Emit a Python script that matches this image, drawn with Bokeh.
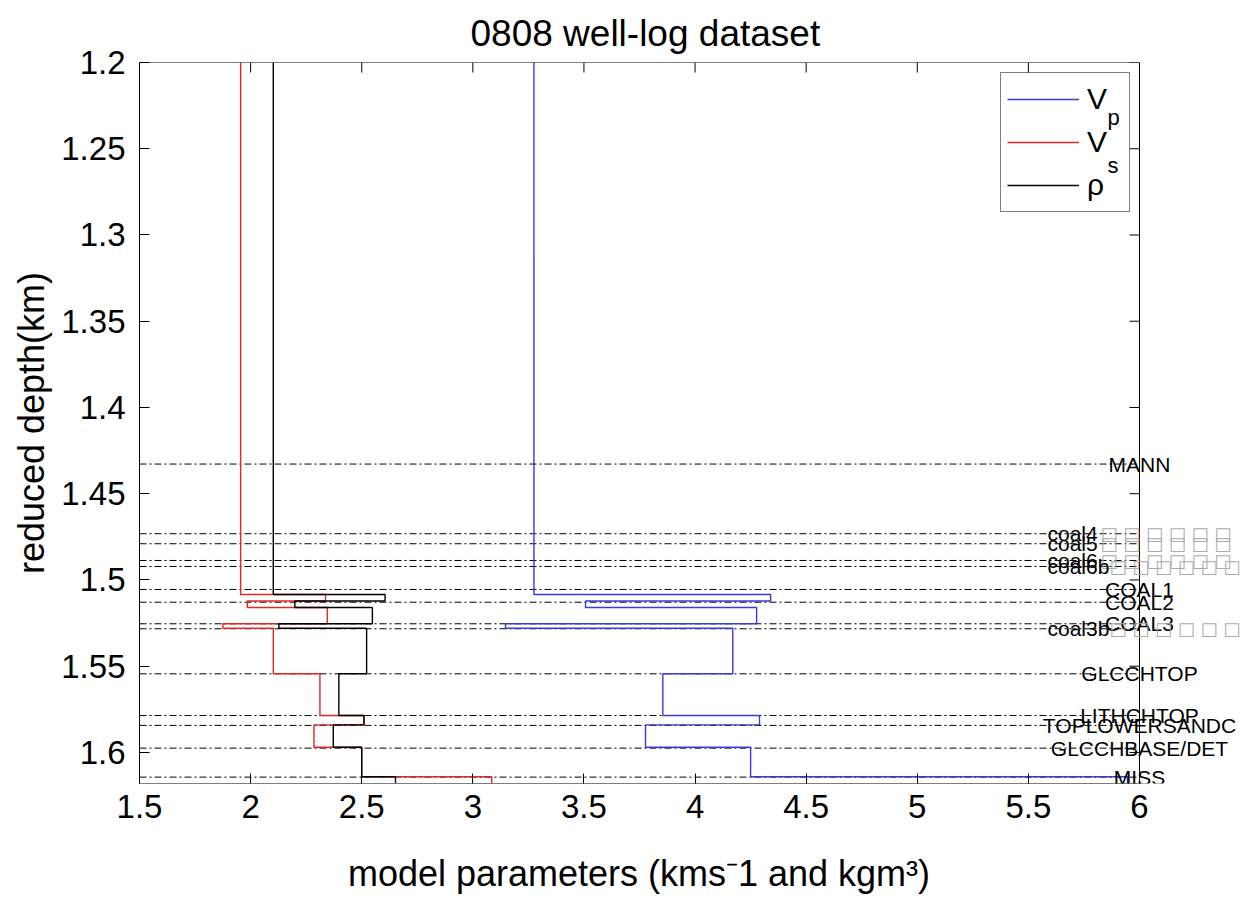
from bokeh.plotting import figure
from bokeh.models import Range1d, Label, Legend, LegendItem, FixedTicker
from bokeh.embed import file_html
from bokeh.resources import INLINE

# ---------------- data ----------------
layer_tops = [1.2, 1.5084, 1.5122, 1.5160, 1.5254, 1.5280, 1.5544, 1.5786,
              1.5840, 1.5970, 1.6141]
max_depth = 1.618
vp_values = [3.275, 4.34, 3.507, 4.277, 3.147, 4.17, 3.855, 4.29, 3.777, 4.25, 5.946]
vs_values = [1.955, 2.337, 1.985, 2.345, 1.875, 2.102, 2.312, 2.51, 2.285, 2.50, 3.085]
rho_values = [2.102, 2.605, 2.199, 2.548, 2.127, 2.522, 2.397, 2.51, 2.372, 2.50, 2.652]

horizon_names = ["MANN", "coal4", "coal5", "coal6", "coal6b", "COAL1", "COAL2",
                 "COAL3", "coal3b", "GLCCHTOP", "LITHCHTOP", "TOPLOWERSANDC",
                 "GLCCHBASE/DET", "MISS"]
horizon_depths = [1.4328, 1.4732, 1.4790, 1.4887, 1.4922, 1.5055, 1.5129,
                  1.5254, 1.5283, 1.5544, 1.5786, 1.5843, 1.5975, 1.6143]

x_ticks = [1.5, 2, 2.5, 3, 3.5, 4, 4.5, 5, 5.5, 6]
x_tick_labels = ["1.5", "2", "2.5", "3", "3.5", "4", "4.5", "5", "5.5", "6"]
y_ticks = [1.2, 1.25, 1.3, 1.35, 1.4, 1.45, 1.5, 1.55, 1.6]
y_tick_labels = ["1.2", "1.25", "1.3", "1.35", "1.4", "1.45", "1.5", "1.55", "1.6"]

X_MIN, X_MAX, Y_TOP = 1.5, 6.0, 1.2
FONT = "Liberation Sans"

# ---------------- geometry of the page ----------------
W, H = 1248, 904
LEFT, TOP, RIGHT_AX, BOTTOM_AX = 139, 62, 1139, 783
px_per_x = (RIGHT_AX - LEFT) / (X_MAX - X_MIN)
px_per_y = (BOTTOM_AX - TOP) / (max_depth - Y_TOP)
x_end = X_MAX + (W - RIGHT_AX) / px_per_x        # frame runs to the canvas edge
tick_dx = 10 / px_per_x
tick_dy = 10 / px_per_y


def step_profile(values):
    bottoms = layer_tops[1:] + [max_depth]
    xs, ys = [], []
    for v, t, b in zip(values, layer_tops, bottoms):
        xs += [v, v]
        ys += [t, b]
    return xs, ys


p = figure(width=W, height=H,
           x_range=Range1d(X_MIN, x_end), y_range=Range1d(max_depth, Y_TOP),
           output_backend="svg", toolbar_location=None,
           min_border_left=LEFT, min_border_right=0,
           min_border_top=TOP, min_border_bottom=H - BOTTOM_AX)
p.xgrid.visible = False
p.ygrid.visible = False
p.outline_line_color = None

p.title.text = "0808 well-log dataset"
p.title.align = "left"
p.title.offset = 331
p.title.vertical_align = "top"
p.title.text_font = FONT
p.title.text_font_size = "37px"
p.title.text_font_style = "normal"
p.title.text_color = "black"
p.title.standoff = 14

# horizons (dash-dot lines across the axes box)
n_h = len(horizon_depths)
p.segment(x0=[X_MIN] * n_h, x1=[X_MAX] * n_h, y0=horizon_depths, y1=horizon_depths,
          line_color="black", line_width=1, line_dash="7 3 2 3")

# profiles
xs, ys = step_profile(vp_values)
r_vp = p.line(xs, ys, line_color="#3a3ad8", line_width=1.4)
xs, ys = step_profile(vs_values)
r_vs = p.line(xs, ys, line_color="#e02828", line_width=1.4)
xs, ys = step_profile(rho_values)
r_rho = p.line(xs, ys, line_color="black", line_width=1.4)

# box: top, bottom and right edges at the axis limits, inward ticks on top/right
p.segment(x0=[X_MIN, X_MIN, X_MAX], x1=[X_MAX, X_MAX, X_MAX],
          y0=[Y_TOP, max_depth, Y_TOP], y1=[Y_TOP, max_depth, max_depth],
          line_color="black", line_width=1)
n_y = len(y_ticks)
p.segment(x0=[X_MAX] * n_y, x1=[X_MAX - tick_dx] * n_y, y0=y_ticks, y1=y_ticks,
          line_color="black", line_width=1)
n_x = len(x_ticks)
p.segment(x0=x_ticks, x1=x_ticks, y0=[Y_TOP] * n_x, y1=[Y_TOP + tick_dy] * n_x,
          line_color="black", line_width=1)


def style_axis(ax):
    ax.major_tick_in = 10
    ax.major_tick_out = 0
    ax.minor_tick_in = 0
    ax.minor_tick_out = 0
    ax.major_tick_line_color = "black"
    ax.major_label_text_font = FONT
    ax.major_label_text_font_size = "33px"
    ax.major_label_text_color = "black"


xax = p.xaxis[0]
xax.ticker = FixedTicker(ticks=x_ticks)
xax.major_label_overrides = dict(zip(x_ticks, x_tick_labels))
style_axis(xax)
xax.axis_line_color = None
xax.major_label_standoff = 11
# trailing no-break spaces centre the label under the axes box (frame runs further right)
xax.axis_label = "model parameters (kms\u207b1 and kgm\u00b3)" + "\u00a0" * 11
xax.axis_label_text_font = FONT
xax.axis_label_text_font_size = "36px"
xax.axis_label_text_font_style = "normal"
xax.axis_label_text_color = "black"
xax.axis_label_standoff = 32

yax = p.yaxis[0]
yax.ticker = FixedTicker(ticks=y_ticks)
yax.major_label_overrides = dict(zip(y_ticks, y_tick_labels))
style_axis(yax)
yax.axis_line_color = "black"
yax.major_label_standoff = 14
yax.axis_label = "reduced depth(km)"
yax.axis_label_text_font = FONT
yax.axis_label_text_font_size = "36px"
yax.axis_label_text_font_style = "normal"
yax.axis_label_text_color = "black"
yax.axis_label_standoff = 6

# horizon labels
for name, d in zip(horizon_names, horizon_depths):
    if name.islower():
        p.add_layout(Label(x=X_MAX, y=d, x_offset=-92, text=name, text_align="left",
                           text_baseline="alphabetic", text_font=FONT,
                           text_font_size="21px", text_color="black"))
        p.add_layout(Label(x=X_MAX, y=d, x_offset=-92 + 9 * len(name) + 8,
                           text="\u25a1 \u25a1 \u25a1 \u25a1 \u25a1 \u25a1",
                           text_align="left", text_baseline="alphabetic",
                           text_font="DejaVu Sans", text_font_size="18px",
                           text_color="#ababab"))
    else:
        p.add_layout(Label(x=X_MAX, y=d, text=name, text_align="center",
                           text_baseline="alphabetic", text_font=FONT,
                           text_font_size="21px", text_color="black"))

# legend
legend = Legend(items=[LegendItem(label="V", renderers=[r_vp]),
                       LegendItem(label="V", renderers=[r_vs]),
                       LegendItem(label="\u03c1", renderers=[r_rho])],
                location=(1000 - LEFT, BOTTOM_AX - 212), padding=6, spacing=3,
                glyph_width=72, glyph_height=40, label_height=40,
                label_width=36, label_standoff=8,
                label_text_font=FONT, label_text_font_size="30px",
                label_text_color="black",
                border_line_color="black", border_line_width=1,
                background_fill_alpha=0)
p.add_layout(legend)
for sub, dy in (("p", -55), ("s", -103)):
    p.add_layout(Label(x=X_MAX, y=Y_TOP, x_offset=-32, y_offset=dy, text=sub,
                       text_align="left", text_baseline="alphabetic",
                       text_font=FONT, text_font_size="22px", text_color="black"))

open("out.html", "w").write(file_html(p, INLINE))
